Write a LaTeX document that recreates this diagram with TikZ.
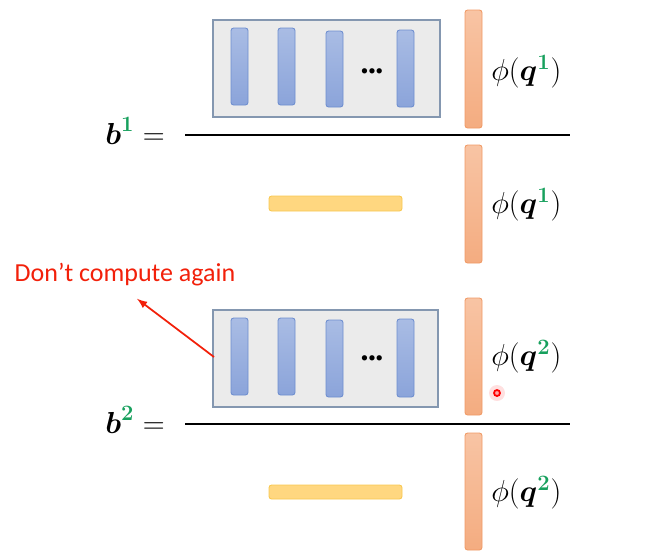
\documentclass[tikz,border=0pt]{standalone}
\usepackage{amsmath}
\usepackage{fontspec}
\newfontfamily\notefont{Carlito}
\definecolor{boxgray}{HTML}{EBEBEB}
\definecolor{boxedge}{HTML}{8497B0}
\definecolor{bartop}{HTML}{A9BCE4}
\definecolor{barbot}{HTML}{8BA4DA}
\definecolor{baredge}{HTML}{6E8ECF}
\definecolor{qtop}{HTML}{F8C4A4}
\definecolor{qbot}{HTML}{F4AC80}
\definecolor{qedge}{HTML}{F09A66}
\definecolor{kfill}{HTML}{FFD780}
\definecolor{kedge}{HTML}{F8C850}
\definecolor{idxgreen}{HTML}{17A05D}
\definecolor{notered}{HTML}{F2200A}
\newcommand{\idx}[1]{\mbox{\fontsize{12.5}{13}\selectfont\color{idxgreen}\bfseries #1}}
\begin{document}
\begin{tikzpicture}[x=0.02cm,y=-0.02cm,
  graybox/.style={fill=boxgray,draw=boxedge,line width=0.6pt},
  vbar/.style={top color=bartop,bottom color=barbot,draw=baredge,line width=0.5pt,rounded corners=1.5pt},
  qbar/.style={top color=qtop,bottom color=qbot,draw=qedge,line width=0.5pt,rounded corners=1.5pt},
  kbar/.style={fill=kfill,draw=kedge,line width=0.5pt,rounded corners=1.5pt},
  rule/.style={line width=1.6pt},
  mathlbl/.style={font=\fontsize{16.5}{18}\selectfont,inner sep=0pt},
  eqlbl/.style={font=\fontsize{18}{20}\selectfont,inner sep=0pt},
  dotlbl/.style={font=\notefont\fontsize{8.5}{10}\selectfont,inner sep=0pt},
  note/.style={font=\notefont\fontsize{14.8}{16}\selectfont,text=notered,inner sep=0pt},
  redarrow/.style={draw=notered,line width=1pt,-latex}]
  \useasboundingbox (0,0) rectangle (656,559);
  % b^1
  \path[graybox] (213,20) rectangle (440,117);
  \foreach \x/\t/\b in {231/28/105,278/28/105,326/31/107,397/30/107}{
    \path[vbar] (\x,\t) rectangle ++(17,\b-\t);
  }
  \node[dotlbl] (dots1) at (372,72) {•••};
  \path[qbar] (465,10) rectangle (482,128);
  \node[mathlbl,anchor=west] (phi1a) at (491,72) {$\phi(\boldsymbol{q}^{\idx{1}})$};
  \node[eqlbl,anchor=east] (b1) at (165,131) {$\boldsymbol{b}^{\idx{1}} =$};
  \draw[rule] (185,135) -- (570,135);
  \path[kbar] (269,196) rectangle (402,211);
  \path[qbar] (465,145) rectangle (482,263);
  \node[mathlbl,anchor=west] (phi1b) at (491,205) {$\phi(\boldsymbol{q}^{\idx{1}})$};
  % note
  \node[note] (again) at (125,275) {Don’t compute again};
  % b^2
  \path[graybox] (213,310) rectangle (438,407);
  \coordinate (box2w) at (214,357);
  \foreach \x/\t/\b in {231/318/395,278/318/395,326/320/397,397/319/397}{
    \path[vbar] (\x,\t) rectangle ++(17,\b-\t);
  }
  \node[dotlbl] (dots2) at (372,359) {•••};
  \path[qbar] (465,298) rectangle (482,415);
  \node[mathlbl,anchor=west] (phi2a) at (491,357) {$\phi(\boldsymbol{q}^{\idx{2}})$};
  \node[eqlbl,anchor=east] (b2) at (165,420) {$\boldsymbol{b}^{\idx{2}} =$};
  \draw[rule] (185,424) -- (570,424);
  \path[kbar] (269,485) rectangle (402,499);
  \path[qbar] (465,433) rectangle (482,550);
  \node[mathlbl,anchor=west] (phi2b) at (491,493) {$\phi(\boldsymbol{q}^{\idx{2}})$};
  \draw[redarrow] (box2w) -- ([shift={(12,12)}]again.south);
  % pointer
  \fill[red!12] (497,393) circle (8);
  \draw[red,line width=1pt,fill=red!35] (497,393) circle (3);
\end{tikzpicture}
\end{document}
